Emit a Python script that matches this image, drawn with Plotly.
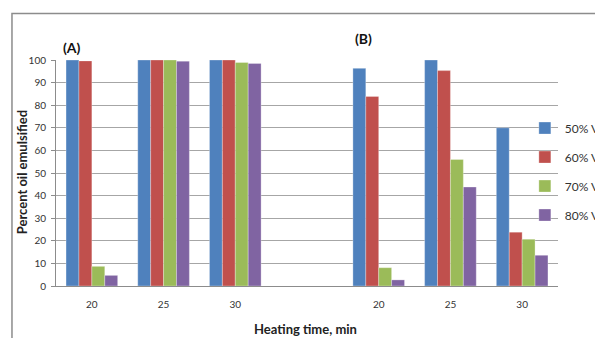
import plotly.graph_objects as go

categories = ["A20", "A25", "A30", "gap", "B20", "B25", "B30"]
tick_labels = ["20", "25", "30", "", "20", "25", "30"]
series_names = ["50% VCO", "60% VCO", "70% VCO", "80% VCO"]
vco50 = [100, 100, 100, None, 96.3, 100, 70]
vco60 = [99.6, 100, 100, None, 83.9, 95.3, 23.8]
vco70 = [8.7, 100, 98.9, None, 8.1, 56.0, 20.7]
vco80 = [4.7, 99.5, 98.5, None, 2.7, 43.8, 13.6]
colors = ["#4F81BD", "#C0504D", "#9BBB59", "#8064A2"]

FONT = "Lato"
fig = go.Figure()
for i, (name, vals) in enumerate(zip(series_names, [vco50, vco60, vco70, vco80])):
    fig.add_trace(go.Bar(
        x=categories, y=vals, name=name, legendgroup=name,
        marker=dict(color=colors[i], line=dict(width=0.5, color="rgba(255,255,255,0.6)")),
    ))

fig.update_layout(
    width=595, height=338,
    margin=dict(l=56, r=37, t=60, b=52, autoexpand=False),
    paper_bgcolor="white", plot_bgcolor="white",
    barmode="group", bargap=0.28, bargroupgap=0,
    font=dict(family=FONT, size=10, color="#333333"),
    showlegend=True,
    legend=dict(x=0.934, xanchor="left", y=0.763, yanchor="top",
                bgcolor="rgba(0,0,0,0)", tracegroupgap=10,
                font=dict(family=FONT, size=12, color="#333333"),
                itemwidth=30),
    xaxis=dict(type="category", categoryorder="array", categoryarray=categories,
               tickvals=categories, ticktext=tick_labels, range=[-0.5, 6.5],
               showline=True, linecolor="#8c8c8c", linewidth=1, showgrid=False,
               ticks="", ticklabelstandoff=9,
               tickfont=dict(family=FONT, size=10, color="#333333")),
    yaxis=dict(range=[0, 100], dtick=10, showgrid=True, gridcolor="#a6a6a6", gridwidth=1,
               showline=True, linecolor="#8c8c8c", linewidth=1, ticks="outside",
               ticklen=4, tickcolor="#8c8c8c", zeroline=False, ticklabelstandoff=3,
               tickfont=dict(family=FONT, size=10, color="#333333")),
    annotations=[
        dict(text="<b>Percent oil emulsified</b>", xref="paper", yref="paper",
             x=-0.0678, y=0.503, xanchor="center", yanchor="middle",
             textangle=-90, showarrow=False,
             font=dict(family=FONT, size=13, color="#222222")),
        dict(text="<b>Heating time, min</b>", xref="paper", yref="paper",
             x=0.498, y=-0.192, xanchor="center", yanchor="middle", showarrow=False,
             font=dict(family=FONT, size=13, color="#222222")),
        dict(text="<b>(A)</b>", xref="paper", yref="paper",
             x=0.031, y=1.056, xanchor="center", yanchor="middle", showarrow=False,
             font=dict(family=FONT, size=14, color="#111111")),
        dict(text="<b>(B)</b>", xref="paper", yref="paper",
             x=0.612, y=1.093, xanchor="center", yanchor="middle", showarrow=False,
             font=dict(family=FONT, size=14, color="#111111")),
    ],
    shapes=[
        dict(type="rect", xref="paper", yref="paper", x0=-0.0877, y0=-0.4,
             x1=1.3, y1=1.2053, line=dict(color="#8c8c8c", width=1.5), layer="below"),
    ],
)

fig.write_html("out.html")
